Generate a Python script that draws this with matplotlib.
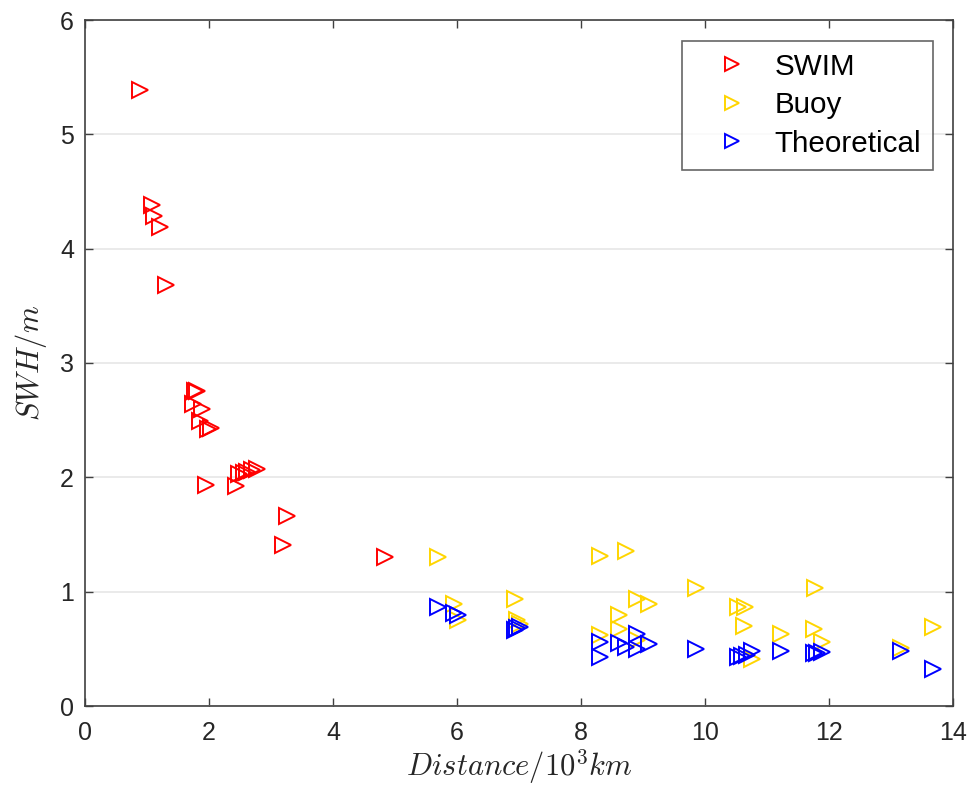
import matplotlib
matplotlib.use("Agg")
import matplotlib.pyplot as plt

# ---- data ----
swim_x = [0.895, 1.08, 1.12, 1.21, 1.31, 1.77, 1.81, 1.74, 1.89, 1.85, 1.98, 2.04,
          1.95, 2.44, 2.49, 2.56, 2.62, 2.70, 2.77, 3.26, 3.19, 4.84]
swim_y = [5.385, 4.38, 4.29, 4.19, 3.68, 2.755, 2.755, 2.64, 2.60, 2.49, 2.42, 2.43,
          1.93, 1.92, 2.03, 2.04, 2.05, 2.06, 2.07, 1.66, 1.41, 1.30]

buoy_x = [5.70, 5.95, 6.02, 6.94, 6.97, 7.02, 8.30, 8.31, 8.61, 8.72, 8.61, 8.91,
          8.91, 9.09, 9.85, 10.54, 10.65, 10.63, 10.76, 11.22, 11.75, 11.78, 11.89,
          13.16, 13.68]
buoy_y = [1.30, 0.895, 0.75, 0.94, 0.75, 0.72, 1.31, 0.62, 0.80, 1.36, 0.67, 0.94,
          0.58, 0.89, 1.03, 0.87, 0.87, 0.70, 0.41, 0.63, 0.67, 1.03, 0.56,
          0.51, 0.69]

theo_x = [5.70, 5.95, 6.02, 6.94, 6.97, 7.02, 8.30, 8.31, 8.61, 8.72, 8.91, 8.91,
          9.09, 9.85, 10.54, 10.60, 10.68, 10.76, 11.22, 11.75, 11.80, 11.89,
          13.16, 13.68]
theo_y = [0.87, 0.81, 0.80, 0.665, 0.68, 0.69, 0.56, 0.43, 0.55, 0.52, 0.63, 0.50,
          0.54, 0.50, 0.43, 0.44, 0.45, 0.48, 0.48, 0.46, 0.46, 0.47,
          0.48, 0.32]

x_ticks = [0, 2, 4, 6, 8, 10, 12, 14]
y_ticks = [0, 1, 2, 3, 4, 5, 6]

# ---- style ----
plt.rcParams['font.family'] = ['Liberation Sans', 'DejaVu Sans']
plt.rcParams['mathtext.fontset'] = 'cm'
axcol = '#404040'

fig = plt.figure(figsize=(9.72, 7.87), dpi=100)
ax = fig.add_axes([85/972, 81/787, 868/972, 686/787])

ms = 11.5
mew = 1.4
ax.plot(swim_x, swim_y, linestyle='none', marker='>', markersize=ms,
        markerfacecolor='none', markeredgecolor='#FF0000', markeredgewidth=mew, label='SWIM')
ax.plot(buoy_x, buoy_y, linestyle='none', marker='>', markersize=ms,
        markerfacecolor='none', markeredgecolor='#FFD500', markeredgewidth=mew, label='Buoy')
ax.plot(theo_x, theo_y, linestyle='none', marker='>', markersize=ms,
        markerfacecolor='none', markeredgecolor='#0000FF', markeredgewidth=mew, label='Theoretical')

ax.set_xlim(0, 14)
ax.set_ylim(0, 6)
ax.set_xticks(x_ticks)
ax.set_yticks(y_ticks)
ax.yaxis.grid(True, color='#e6e6e6', linewidth=1.2)
ax.set_axisbelow(True)
ax.tick_params(direction='in', length=6, width=1, colors=axcol, labelcolor='#262626',
               labelsize=18, top=True, right=True)
ax.tick_params(axis='x', pad=11)
ax.tick_params(axis='y', pad=8)
for sp in ax.spines.values():
    sp.set_color(axcol)
    sp.set_linewidth(1.2)

ax.set_xlabel(r'$Distance/10^3km$', fontsize=22, color='#262626', labelpad=1)
ax.set_ylabel(r'$SWH/m$', fontsize=22, color='#262626', labelpad=8)

leg = fig.legend(handles=ax.get_lines(), labels=['SWIM', 'Buoy', 'Theoretical'],
                 loc='upper right', bbox_to_anchor=(933.3/972, 1 - 40.7/787), fontsize=21.3,
                 frameon=True, fancybox=False, borderpad=0.4, handletextpad=0.15,
                 handlelength=2.6, labelspacing=0.36, borderaxespad=0, markerscale=0.85)
leg.get_frame().set_edgecolor(axcol)
leg.get_frame().set_linewidth(1.2)

fig.savefig('out.png', dpi=100)
